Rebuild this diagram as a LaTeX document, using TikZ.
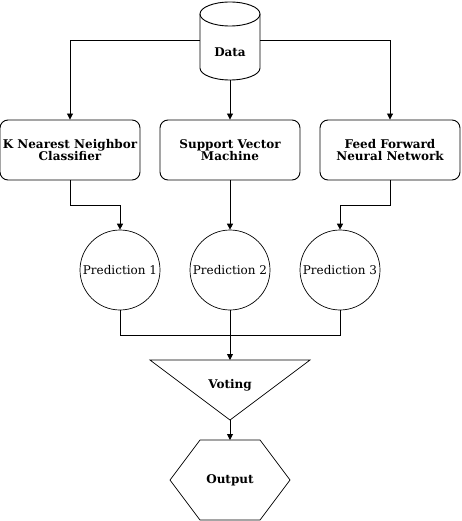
\documentclass[tikz,border=0pt]{standalone}
\usepackage{fontspec}
\setmainfont{DejaVu Serif}
\usetikzlibrary{arrows.meta,shapes.geometric,calc}
\begin{document}
\begin{tikzpicture}[x=1pt,y=-1pt,
  every node/.style={font=\fontsize{12}{14}\selectfont, align=center},
  lw/.style={line width=0.9pt},
  arr/.style={lw,-{Triangle[length=6pt,width=6pt]}},
  boldtext/.style={inner sep=0pt,font=\fontsize{12}{14}\selectfont\bfseries},
  boxnode/.style={draw,lw,rounded corners=8pt,minimum width=140pt,minimum height=60pt,inner sep=0pt,font=\fontsize{12}{14}\selectfont\bfseries},
  circnode/.style={draw,line width=0.7pt,circle,minimum size=80pt,inner sep=0pt}]
\useasboundingbox (0,0) rectangle (461,521);
% Data cylinder
\node[inner sep=0pt,minimum width=60pt,minimum height=78pt] (data) at (230,41) {};
\node[boldtext] (datalabel) at (230,52) {Data};
\draw[lw] (200,14) -- (200,68) arc[start angle=180,end angle=0,x radius=30,y radius=12] -- (260,14);
\draw[lw] (230,14) ellipse[x radius=30,y radius=12];
% classifiers
\node[boxnode] (knn) at (70,150) {K Nearest Neighbor\\[-2pt]Classifier};
\node[boxnode] (svm) at (230,150) {Support Vector\\[-2pt]Machine};
\node[boxnode] (ffn) at (390,150) {Feed Forward\\[-2pt]Neural Network};
% predictions
\node[circnode] (p1) at (120,270) {Prediction 1};
\node[circnode] (p2) at (230,270) {Prediction 2};
\node[circnode] (p3) at (340,270) {Prediction 3};
% voting triangle
\node[boldtext] (vote) at (230,385) {Voting};
\coordinate (vtop) at (230,360);
\coordinate (vbot) at (230,420);
\draw[line width=0.7pt] (150,360) -- (310,360) -- (vbot) -- cycle;
% output hexagon
\node[boldtext] (out) at (230,480) {Output};
\coordinate (otop) at (230,440);
\draw[line width=0.7pt] (200,440) -- (260,440) -- (290,480) -- (260,520) -- (200,520) -- (170,480) -- cycle;
% connectors
\draw[arr] (data.west |- 0,40) -| (knn.north);
\draw[arr] (data.east |- 0,40) -| (ffn.north);
\draw[arr] (data.south) -- (svm.north);
\draw[arr] (knn.south) |- (120,205) -- (p1.north);
\draw[arr] (svm.south) -- (p2.north);
\draw[arr] (ffn.south) |- (340,205) -- (p3.north);
\draw[lw] (p1.south) |- (230,335);
\draw[lw] (p3.south) |- (230,335);
\draw[arr] (p2.south) -- (vtop);
\draw[arr] (vbot) -- (otop);
\end{tikzpicture}
\end{document}
